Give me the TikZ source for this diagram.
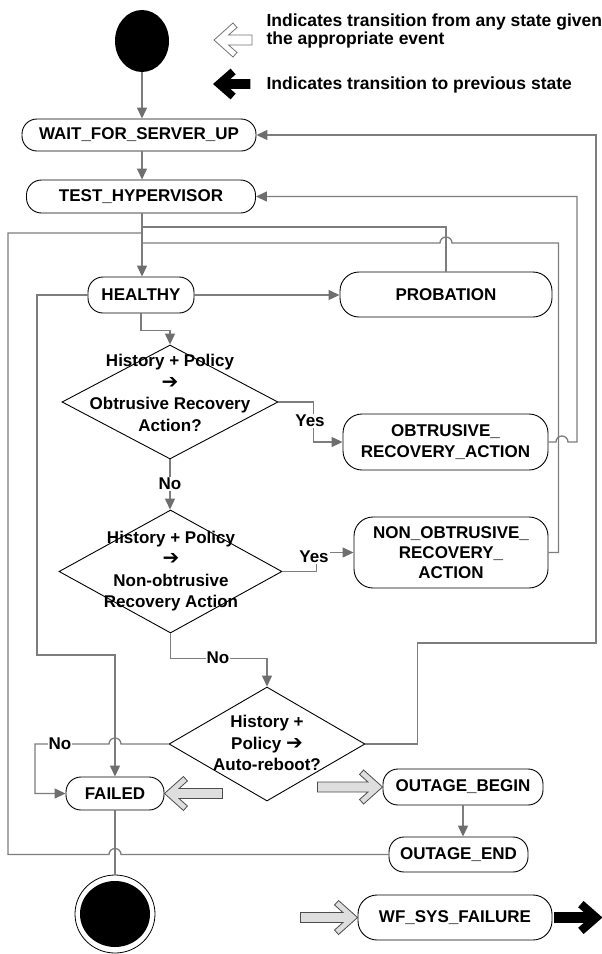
\documentclass[tikz,border=0pt]{standalone}
\usepackage{fontspec}
\setmainfont{Liberation Sans}
\newfontfamily\djv{DejaVu Sans}
\usetikzlibrary{arrows.meta,shapes.geometric,calc}
\definecolor{lineg}{RGB}{125,125,125}
\definecolor{headg}{RGB}{110,110,110}
\definecolor{hfill}{RGB}{222,222,222}
\newcommand{\hollowarrow}[2]{%
  \draw[#1] (0,0) -- (-19,-17) -- (-23,-12.5) -- (-14.6,-5) -- (-#2,-5) -- (-#2,5) -- (-14.6,5) -- (-23,12.5) -- (-19,17) -- cycle;}
\newcommand{\blackarrow}[2]{%
  \fill[#1] (0,0) -- (-16,-14) -- (-20.6,-8.7) -- (-15.8,-4.5) -- (-#2,-4.5) -- (-#2,4.5) -- (-15.8,4.5) -- (-20.6,8.7) -- (-16,14) -- cycle;}
\newcommand{\harr}{{\djv\fontsize{20}{21.5}\selectfont ➔}}
\begin{document}
\begin{tikzpicture}[x=1pt,y=-1pt,
  every node/.style={font={\fontsize{17}{21.5}\selectfont\bfseries}},
  state/.style={draw=black, line width=0.9pt, rounded corners=15pt, align=center, inner sep=0pt},
  bigstate/.style={state, rounded corners=19pt},
  dia/.style={draw=black, line width=0.9pt, diamond, inner sep=0pt},
  dtext/.style={align=center, inner sep=0pt},
  conn/.style={draw=lineg, line width=1.3pt},
  arr/.style={conn, -{Triangle[length=11pt,width=10pt,color=headg]}},
  lbl/.style={fill=white, inner sep=1pt},
  hollowsty/.style={fill=hfill, draw=black!70, line width=0.8pt},
  legendsty/.style={fill=white, draw=black!55, line width=0.8pt},
]
\useasboundingbox (0,0) rectangle (602,954);

% legend
\node[anchor=west, align=left, font={\fontsize{17.5}{18.5}\selectfont\bfseries}] (leg1) at (263,31) {Indicates transition from any state given\\the appropriate event};
\node[anchor=west, font={\fontsize{17.5}{18.5}\selectfont\bfseries}] (leg2) at (263,85) {Indicates transition to previous state};
\hollowarrow{legendsty, shift={(214,40)}, xscale=-1}{38}
\blackarrow{black, shift={(213,84)}, xscale=-1, scale=1.1}{34}

% states
\node[fill=black, ellipse, minimum width=54pt, minimum height=62pt, inner sep=0pt] (start) at (142,41) {};
\node[state, minimum width=234pt, minimum height=32pt] (wait) at (139,135) {WAIT\_FOR\_SERVER\_UP};
\node[state, minimum width=229pt, minimum height=33pt] (test) at (141,196.5) {TEST\_HYPERVISOR};
\node[state, minimum width=106pt, minimum height=36pt] (healthy) at (141,295) {HEALTHY};
\node[bigstate, minimum width=212pt, minimum height=45pt] (probation) at (446,294.5) {PROBATION};
\node[bigstate, minimum width=205pt, minimum height=56pt] (obtr) at (445.5,442) {OBTRUSIVE\_\\RECOVERY\_ACTION};
\node[bigstate, minimum width=194pt, minimum height=71pt, font={\fontsize{17}{20}\selectfont\bfseries}] (nonobtr) at (451,552.5) {NON\_OBTRUSIVE\_\\RECOVERY\_\\ACTION};
\node[state, minimum width=98pt, minimum height=33pt] (failed) at (115,793.5) {FAILED};
\node[state, minimum width=160pt, minimum height=36pt] (outbeg) at (463,787) {OUTAGE\_BEGIN};
\node[state, minimum width=139pt, minimum height=35pt] (outend) at (458.5,854.5) {OUTAGE\_END};
\node[bigstate, minimum width=194pt, minimum height=45pt] (wf) at (455,917.5) {WF\_SYS\_FAILURE};
\node[draw=black, line width=0.8pt, ellipse, minimum width=80pt, minimum height=78pt, inner sep=0pt] (final) at (115,914) {};
\node[fill=black, ellipse, minimum width=70pt, minimum height=66pt, inner sep=0pt] (finalin) at (final.center) {};

% decisions
\node[dia, minimum width=216pt, minimum height=114pt] (d1) at (170,402) {};
\node[dtext] (d1t) at (170,393) {History + Policy\\\harr\\Obtrusive Recovery\\Action?};
\node[dia, minimum width=223pt, minimum height=123pt] (d2) at (170.5,571.5) {};
\node[dtext] (d2t) at (171,571) {History + Policy\\\harr\\Non-obtrusive\\Recovery Action};
\node[dia, minimum width=196pt, minimum height=114pt] (d3) at (267,744) {};
\node[dtext] (d3t) at (267,743) {History +\\Policy \harr\\Auto-reboot?};

% join points on the spine
\coordinate (jA) at (142,227);
\coordinate (jB) at (142,233);
\coordinate (jC) at (142,243);
\coordinate (hb) at (115,655);

% connectors
\draw[arr] (start.south) -- (start.south |- wait.north);
\draw[arr] (start.south |- wait.south) -- (start.south |- test.north);
\draw[arr] (start.south |- test.south) -- (start.south |- healthy.north);
\draw[arr] (healthy.east) -- (healthy.east -| probation.west);
\draw[conn] (probation.north) -- (probation.north |- jA) -- (jA);
\draw[conn] (nonobtr.east) -- ++(10,0) |- (452,243) arc[start angle=0, end angle=180, radius=6pt] -- (jC);
\draw[arr] (healthy.south) -- ++(0,17) -| (d1.north);
\draw[arr] (d1.east) -- ++(35,0) |- (obtr.west);
\draw[arr] (obtr.east) -- (556,442) arc[start angle=180, end angle=0, radius=6pt] -- (577,442) |- (test.east);
\draw[arr] (d1.south) -- (d1.south |- d2.north);
\draw[arr] (d2.east) -- ++(34,0) |- (nonobtr.west);
\draw[arr] (d2.south) -- ++(0,25) -| (d3.north);
\draw[arr] (d3.east) -- ++(52,0) |- (596,643) |- (wait.east);
\draw[arr] (d3.west) -- (121,744) arc[start angle=0, end angle=180, radius=6pt] -- (35,744) |- (failed.west);
\draw[arr] (healthy.west) -| (37,655) -- (hb) -- (failed.north);
\draw[conn] (outend.west) -- (121,854.5) arc[start angle=0, end angle=180, radius=6pt] -- (8,854.5) |- (jB);
\draw[conn] (failed.south) -- (final.north);
\draw[arr] (outbeg.south) -- (outbeg.south |- outend.north);

% labels
\node[lbl] (yes1) at (310,421) {Yes};
\node[lbl] (no1) at (170,484) {No};
\node[lbl] (yes2) at (314,557) {Yes};
\node[lbl] (no2) at (218,658) {No};
\node[lbl] (no3) at (60,744) {No};

% block arrows
\hollowarrow{hollowsty, shift={(failed.east)}, xscale=-1}{58}
\hollowarrow{hollowsty, shift={(outbeg.west)}}{65}
\hollowarrow{hollowsty, shift={(wf.west)}}{57}
\blackarrow{black, shift={($(wf.east)+(50,0)$)}, scale=1.18}{41}
\end{tikzpicture}
\end{document}
